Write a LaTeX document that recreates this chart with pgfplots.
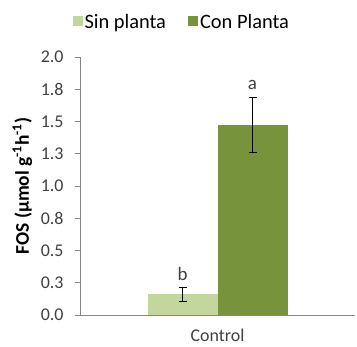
\documentclass[border=0pt]{standalone}
\usepackage{fontspec}
\setmainfont{Carlito}
\usepackage{pgfplots}
\pgfplotsset{compat=1.18}

\definecolor{sinplanta}{HTML}{C3D69B}
\definecolor{conplanta}{HTML}{77933C}
\definecolor{axisgray}{HTML}{868686}
\definecolor{ticktext}{HTML}{404040}

\newcommand{\chartfont}{\fontsize{18}{21}\selectfont}
\newcommand{\legendfont}{\fontsize{20.5}{24}\selectfont}

\begin{document}
\begin{tikzpicture}[x=1bp,y=1bp]
\useasboundingbox (0,0) rectangle (357,347);
\begin{axis}[
  at={(80bp,32bp)}, anchor=south west,
  scale only axis, width=275bp, height=258bp,
  ybar=0pt, bar width=70bp,
  xmin=-0.5, xmax=0.5, ymin=0, ymax=2,
  axis x line=bottom, axis y line=left,
  axis line style={axisgray, -},
  xtick={0}, xticklabels={Control},
  x tick style={draw=none},
  xticklabel style={yshift=-6bp},
  ytick={0,0.25,0.5,0.75,1,1.25,1.5,1.75,2},
  yticklabels={0.0,0.3,0.5,0.8,1.0,1.3,1.5,1.8,2.0},
  yticklabel style={xshift=-8bp},
  y tick style={axisgray, line width=0.6pt},
  tick align=outside, major tick length=5bp,
  /pgf/number format/assume math mode=true,
  tick label style={font=\chartfont, text=ticktext},
  ylabel={\textbf{FOS (µmol g\textsuperscript{-1}h\textsuperscript{-1})}},
  ylabel style={at={(axis description cs:-0.21,0.5)}, anchor=center, font=\fontsize{19.5}{22}\selectfont},
  legend columns=2,
  legend style={at={(0.37,1.136)}, anchor=center, draw=none, fill=none,
    font=\legendfont,
    /tikz/every even column/.append style={column sep=20bp}},
  legend image code/.code={\fill[#1] (0bp,-4.5bp) rectangle (10bp,5.5bp);},
  error bars/y dir=both, error bars/y explicit,
  error bars/error bar style={black, line width=0.8pt},
  error bars/error mark options={rotate=90, mark size=4bp, black, line width=0.8pt},
]
\addplot[fill=sinplanta, draw=none] coordinates {(0,0.16) +- (0,0.056)};
\addplot[fill=conplanta, draw=none] coordinates {(0,1.47) +- (0,0.213)};
\legend{Sin planta, Con Planta}
\node[font=\fontsize{19}{22}\selectfont, text=ticktext] at ([xshift=-35bp]axis cs:0,0.32) {b};
\node[font=\fontsize{19}{22}\selectfont, text=ticktext] at ([xshift=35bp]axis cs:0,1.78) {a};
\end{axis}
\end{tikzpicture}
\end{document}
